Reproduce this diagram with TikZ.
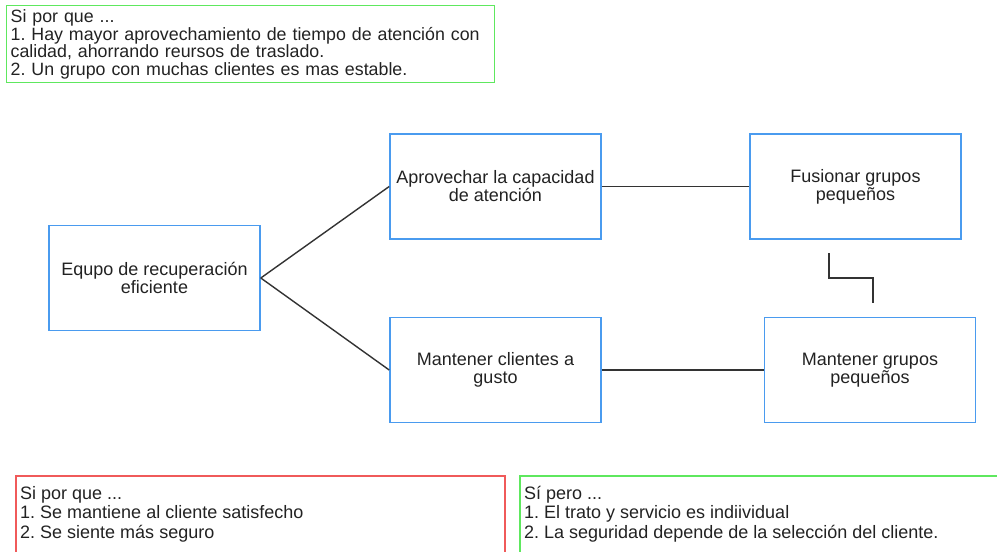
\documentclass[tikz,border=0pt]{standalone}
\usepackage{fontspec}
\setmainfont{Liberation Sans}
\frenchspacing
\definecolor{boxblue}{HTML}{4A9BEF}
\definecolor{notegreen}{HTML}{5EE85E}
\definecolor{notered}{HTML}{F05A5A}
\definecolor{linegray}{HTML}{333333}
\definecolor{txt}{HTML}{222222}
\begin{document}
\begin{tikzpicture}[x=1pt,y=-1pt,
  box/.style={draw=boxblue,line width=1.6pt,minimum width=211pt,minimum height=105pt,
    align=center,inner sep=2pt,text=txt,font=\fontsize{18}{18}\selectfont},
  conn/.style={draw=linegray,line width=1.4pt},
  note/.style={line width=1.3pt},
  notetext/.style={anchor=north west,align=left,inner sep=0pt,text=txt}]
\useasboundingbox (0,0) rectangle (997,552);
\node[box] (equpo) at (154.5,278) {Equpo de recuperación\\eficiente};
\node[box] (aprov) at (495.5,186.5) {Aprovechar la capacidad\\de atención};
\node[box] (mcli) at (495.5,370) {Mantener clientes a\\gusto};
\node[box] (fus) at (855.5,186.5) {Fusionar grupos\\pequeños};
\node[box] (mgru) at (870,370) {Mantener grupos\\pequeños};
\draw[conn] (equpo.east) -- (aprov.west);
\draw[conn] (equpo.east) -- (mcli.west);
\draw[conn] (aprov.east) -- (fus.west);
\draw[conn] (mcli.east) -- (mgru.west);
\coordinate (e1) at (829,253);
\coordinate (e2) at (873,303);
\draw[conn] (e1) |- (851,278) -| (e2);
% notes
\node[draw=notegreen,note,minimum width=488pt,minimum height=77pt,anchor=north west,
  align=left,text width=480pt,inner sep=4pt,text=txt,font=\fontsize{17.8}{17.5}\selectfont] (topnote) at (6,5)
  {Si por que ...\\1. Hay mayor aprovechamiento de tiempo de atención con\\calidad, ahorrando reursos de traslado.\\2. Un grupo con muchas clientes es mas estable.};
\draw[draw=notered,note] (16,600) |- (505,476) -- (505,600);
\draw[draw=notegreen,note] (520,600) |- (1010,476);
\node[notetext,font=\fontsize{18}{19.5}\selectfont] (rednote) at (20,486)
  {Si por que ...\\1. Se mantiene al cliente satisfecho\\2. Se siente más seguro};
\node[notetext,font=\fontsize{18}{19.5}\selectfont] (greennote) at (524,486)
  {Sí pero ...\\1. El trato y servicio es indiividual\\2. La seguridad depende de la selección del cliente.};
\end{tikzpicture}
\end{document}
